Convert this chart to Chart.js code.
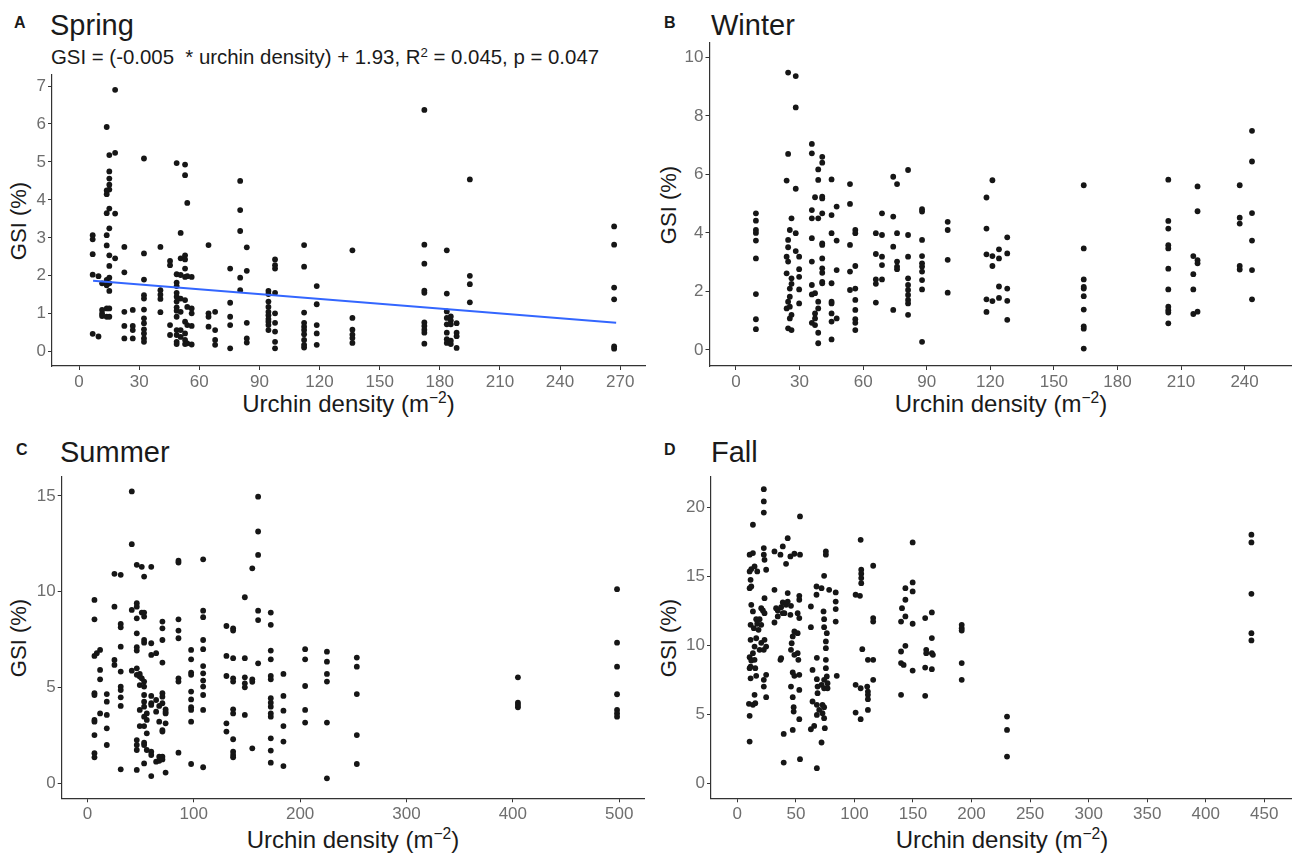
<!DOCTYPE html>
<html>
<head>
<meta charset="utf-8">
<script src="https://cdn.jsdelivr.net/npm/chart.js@4.4.0/dist/chart.umd.min.js"></script>
<style>
  html, body { margin:0; padding:0; background:#fff; }
  body { width:1295px; height:855px; position:relative; overflow:hidden;
         font-family:"Liberation Sans", Arial, Helvetica, sans-serif; color:#1a1a1a; }
  .box { position:absolute; }
  .txt { position:absolute; white-space:nowrap; line-height:1; }
  .tag { font-weight:bold; font-size:16px; }
  .ttl { font-size:29px; }
  .eq { font-size:20.4px; }
  .ylab { font-size:22px; width:120px; height:22px; text-align:center; transform:rotate(-90deg); }
  .xlab { font-size:24px; width:320px; text-align:center; }
  sup { font-size:65%; vertical-align:0.55em; line-height:0; }
</style>
</head>
<body>

<div class="txt tag" style="left:14px;top:14.5px;">A</div>
<div class="txt ttl" style="left:50px;top:10.5px;">Spring</div>
<div class="txt eq" style="left:51px;top:46.8px;">GSI = (-0.005 &nbsp;* urchin density) + 1.93, R<sup>2</sup> = 0.045, p = 0.047</div>
<div class="txt ylab" style="left:-41px;top:209.5px;">GSI (%)</div>
<div class="txt xlab" style="left:188.5px;top:391.7px;">Urchin density (m<sup>&minus;2</sup>)</div>

<div class="txt tag" style="left:664px;top:14.5px;">B</div>
<div class="txt ttl" style="left:711px;top:10.5px;">Winter</div>
<div class="txt ylab" style="left:609px;top:193.5px;">GSI (%)</div>
<div class="txt xlab" style="left:841px;top:391.7px;">Urchin density (m<sup>&minus;2</sup>)</div>

<div class="txt tag" style="left:16px;top:441.5px;">C</div>
<div class="txt ttl" style="left:60px;top:437.8px;">Summer</div>
<div class="txt ylab" style="left:-41px;top:626.5px;">GSI (%)</div>
<div class="txt xlab" style="left:193px;top:827.7px;">Urchin density (m<sup>&minus;2</sup>)</div>

<div class="txt tag" style="left:664px;top:441.5px;">D</div>
<div class="txt ttl" style="left:711px;top:437.8px;">Fall</div>
<div class="txt ylab" style="left:609px;top:626.5px;">GSI (%)</div>
<div class="txt xlab" style="left:842px;top:827.7px;">Urchin density (m<sup>&minus;2</sup>)</div>

<script>
/* ── DATA ── */

// A: Spring — one density per site, GSI values of the urchins sampled there
var springDensity = [6.8, 9.7, 11.5, 13.8, 15.1, 18, 22.6, 26.8, 32.4, 40.6, 45.4, 48.7, 50.7, 52.9, 54, 56.2,
  64.6, 67.9, 75.4, 80.4, 83.7, 94.5, 97.8, 112.3, 118.6, 136.4, 172.3, 183.5, 185.5, 188.4, 195, 267];
var springGSI = [
  [3.07, 2.96, 2.57, 2.03, 0.47],
  [1.99, 0.4],
  [1.8, 1.1, 1.0, 0.94],
  [5.92, 4.25, 4.15, 3.65, 3.07, 2.8, 1.89, 1.75, 1.14, 0.92],
  [5.18, 4.75, 4.56, 4.4, 4.27, 3.77, 3.25, 2.54, 2.26, 1.95, 1.8, 1.6, 1.14, 0.92],
  [6.9, 5.24, 3.64, 2.46],
  [2.76, 2.09, 1.05, 0.68, 0.35],
  [1.1, 0.68, 0.57, 0.35],
  [5.09, 2.59, 1.9, 1.49, 1.4, 1.11, 0.88, 0.75, 0.59, 0.48, 0.35, 0.26],
  [2.76, 1.62, 1.5, 1.39, 1.04],
  [2.39, 2.28, 0.7, 0.44],
  [4.97, 2.04, 1.82, 1.73, 1.55, 1.45, 1.32, 1.17, 1.08, 0.92, 0.57, 0.44, 0.26, 0.2],
  [3.13, 2.46, 2.02, 1.4, 1.05, 0.57, 0.39],
  [4.93, 4.65, 2.54, 2.43, 2.19, 1.97, 1.36, 0.79, 0.48, 0.31, 0.2],
  [3.92, 1.99, 1.18, 0.7, 0.22],
  [1.97, 1.14, 1.01, 0.68, 0.19],
  [2.81, 1.01, 0.92, 0.66],
  [1.05, 0.57, 0.31, 0.18],
  [2.19, 1.29, 0.92, 0.7, 0.09],
  [4.5, 3.73, 3.18, 1.95, 1.62],
  [2.75, 2.13, 0.76, 0.35, 0.24],
  [1.6, 1.52, 1.32, 1.18, 1.05, 0.96, 0.86, 0.79, 0.7, 0.57],
  [2.43, 2.28, 2.19, 1.55, 1.01, 0.76, 0.53, 0.26, 0.09],
  [2.81, 2.24, 1.03, 0.76, 0.66, 0.57, 0.46, 0.31, 0.18, 0.11],
  [1.73, 1.25, 0.7, 0.48, 0.18],
  [2.67, 0.89, 0.58, 0.45, 0.36, 0.23],
  [6.37, 2.82, 2.32, 1.61, 1.55, 0.77, 0.68, 0.58, 0.5, 0.21],
  [2.67, 1.53, 1.06, 0.89, 0.72, 0.5, 0.33, 0.23],
  [0.93, 0.82, 0.72, 0.29, 0.2],
  [0.75, 0.5, 0.41, 0.1],
  [4.54, 2.0, 1.78, 1.3],
  [3.3, 2.82, 1.69, 1.38, 0.14, 0.08]
];
var springFitX = [7, 268];
var springFitY = [1.87, 0.76];
var springXTicks = [0, 30, 60, 90, 120, 150, 180, 210, 240, 270];
var springYTicks = [0, 1, 2, 3, 4, 5, 6, 7];

// B: Winter
var winterDensity = [9.4, 23.9, 24.6, 25.4, 26.2, 28.2, 29.8, 35.8, 37.3, 38.8, 40.7, 45.1, 47.5, 53.8, 56.3,
  66, 68.9, 74.2, 76, 81.2, 87.8, 99.9, 118.2, 121, 124.1, 128, 164.1, 204, 215.8, 217.8, 237.7, 243.5];
var winterGSI = [
  [4.67, 4.42, 4.1, 4.0, 3.74, 3.13, 1.91, 1.05, 0.71],
  [5.79, 3.19, 2.62, 1.42],
  [9.48, 6.7, 3.76, 3.51, 3.02, 1.65, 0.74],
  [4.1, 2.1, 1.82, 1.48, 1.08],
  [4.5, 2.45, 2.26, 1.2, 0.68],
  [9.36, 8.29, 5.51, 3.99, 3.38],
  [3.19, 2.76, 2.5, 2.07, 1.59],
  [7.04, 6.72, 4.78, 4.5, 3.82, 3.02, 2.22, 1.9, 0.93],
  [5.22, 1.94, 1.25, 1.08, 0.85],
  [6.17, 5.81, 4.5, 1.65, 1.42, 0.59, 0.23],
  [6.6, 6.4, 5.24, 5.18, 4.67, 3.64, 3.59, 3.13, 2.79, 2.64, 2.33, 2.28],
  [5.83, 4.61, 3.99, 2.28, 1.65, 1.59, 1.25, 0.97, 0.36],
  [4.9, 3.74, 2.73, 1.08],
  [5.67, 4.99, 3.59, 2.68, 2.05],
  [4.1, 3.99, 2.87, 2.1, 1.71, 1.37, 1.05, 0.93, 0.68],
  [3.99, 3.28, 2.41, 2.26, 1.62],
  [4.67, 3.93, 3.19, 2.9, 2.41],
  [5.92, 4.56, 3.53, 1.37],
  [5.67, 3.99, 3.02, 2.85, 2.76],
  [6.15, 3.93, 3.19, 2.45, 2.22, 2.05, 1.88, 1.71, 1.59, 1.2],
  [4.81, 4.73, 3.76, 3.21, 2.96, 2.85, 2.68, 2.39, 2.07, 0.28],
  [4.38, 4.1, 3.08, 1.96],
  [5.21, 4.15, 3.27, 1.73, 1.3],
  [5.8, 3.21, 2.87, 1.67],
  [3.44, 3.13, 2.17, 1.78],
  [3.85, 3.3, 2.1, 1.68, 1.03],
  [5.63, 3.47, 2.41, 2.16, 2.1, 1.84, 1.38, 0.81, 0.73, 0.05],
  [5.82, 4.41, 4.15, 3.58, 3.47, 2.78, 2.07, 1.48, 1.36, 1.28, 0.91],
  [3.21, 2.59, 2.07, 1.23],
  [5.59, 4.74, 3.07, 2.96, 1.31],
  [5.63, 4.52, 4.32, 2.87, 2.75],
  [7.49, 6.44, 4.68, 3.74, 2.73, 1.73]
];
var winterXTicks = [0, 30, 60, 90, 120, 150, 180, 210, 240];
var winterYTicks = [0, 2, 4, 6, 8, 10];

// C: Summer
var summerDensity = [6.6, 8.8, 11.9, 18.2, 25.4, 31.3, 41.7, 46.4, 49.2, 51.1, 53.3, 55.8, 60, 64.6, 67.5, 70.5,
  73.5, 85.6, 97.5, 108.8, 130.7, 137, 148, 155, 160.5, 172.4, 184.3, 204.7, 225.2, 253.3, 404.8, 498];
var summerGSI = [
  [9.57, 8.56, 6.65, 4.7, 4.61, 3.31, 3.22, 2.52, 1.57, 1.36],
  [6.79],
  [6.96, 5.92, 5.43, 3.65],
  [4.66, 4.26, 3.57, 2.87, 2.0],
  [10.93, 9.22, 6.44, 6.18],
  [10.88, 8.32, 8.14, 7.13, 5.83, 5.05, 4.87, 4.49, 4.04, 0.73],
  [15.23, 12.48, 9.05, 5.88],
  [11.4, 9.4, 9.22, 8.61, 7.83, 7.1, 6.93, 6.0, 5.66, 2.26, 2.0, 1.74, 0.7],
  [5.71, 5.57, 5.13, 3.83, 2.99],
  [11.3, 8.91, 5.48],
  [10.79, 8.91, 8.7, 7.48, 7.34, 5.31, 5.05, 4.61, 4.26, 4.0, 3.48, 2.99, 2.12, 2.0, 1.04],
  [3.65, 3.31, 2.61, 1.74],
  [11.3, 7.31, 6.7, 4.56, 4.18, 4.09, 1.65, 1.48, 0.38],
  [6.79, 4.35, 3.74, 1.13],
  [4.04, 3.22, 1.39, 1.18],
  [8.44, 8.09, 7.48, 6.3, 4.7, 4.52, 4.18, 2.78, 2.7, 1.39, 1.25],
  [3.86, 3.74, 3.65, 3.13, 0.56],
  [11.62, 11.52, 8.56, 7.97, 7.57, 5.48, 5.31, 1.6],
  [6.96, 6.47, 5.78, 5.66, 4.79, 4.38, 3.97, 3.83, 3.22, 1.01],
  [11.69, 9.01, 8.67, 7.48, 7.0, 6.12, 5.74, 5.36, 5.05, 4.61, 3.83, 0.84],
  [8.21, 6.65, 5.6, 3.13, 2.7],
  [8.09, 7.97, 6.53, 5.48, 5.31, 3.86, 3.65, 2.3, 1.65, 1.48, 1.36],
  [9.71, 6.53, 5.53, 5.22, 5.01, 3.57],
  [11.22, 5.43, 5.3, 1.83],
  [14.96, 13.14, 11.92, 9.01, 8.52, 6.26],
  [8.91, 8.27, 6.93, 6.47, 5.6, 5.43, 4.44, 4.21, 4.0, 3.65, 3.48, 2.35, 1.71, 1.08],
  [5.71, 4.56, 3.79, 2.99, 2.18, 0.9],
  [7.0, 6.47, 5.08, 3.83, 3.17],
  [6.87, 6.35, 5.71, 5.31, 3.17, 0.26],
  [6.56, 6.09, 4.66, 2.52, 1.01],
  [5.53, 4.21, 4.09, 3.97],
  [10.13, 7.34, 6.09, 4.65, 3.83, 3.65, 3.48]
];
var summerXTicks = [0, 100, 200, 300, 400, 500];
var summerYTicks = [0, 5, 10, 15];

// D: Fall
var fallDensity = [9.9, 10.5, 11.3, 11.9, 13.3, 14.1, 14.7, 15.3, 16.1, 17, 18.1, 19, 20.4, 21.8, 22.6, 23.2, 24.6,
  31.7, 33.1, 34.5, 36.8, 37.4, 38.8, 39.6, 40.2, 41.6, 43, 45.3, 45.8, 46.4, 47.3, 48.1, 48.7, 51.5, 52.1, 52.9, 53.5,
  62.8, 64.2, 65.6, 67.6, 67.9, 68.5, 69.9, 71.9, 72.7, 73.6, 74.1, 74.7, 75.6, 76.4, 77, 78.4, 84, 84.9,
  101, 104.7, 105.3, 105.8, 106.7, 110.9, 111.5, 116, 139.8, 140.6, 142, 143.5, 149.7, 160.4, 161.3, 166.1, 167,
  191.6, 230.3, 439];
var fallGSI = [
  [5.75],
  [16.55, 15.34, 14.13, 9.13, 8.33, 4.88, 3.02],
  [14.73, 11.47, 10.39, 8.45, 7.6],
  [15.51, 14.25, 12.92, 8.89],
  [18.72, 16.67, 12.44, 9.42, 5.68],
  [11.23],
  [15.7, 9.9, 8.94, 6.4],
  [8.33, 5.8],
  [11.88, 10.5, 7.78],
  [15.34, 11.55],
  [11.11],
  [11.88, 9.66],
  [12.68, 11.47, 10.17],
  [12.51],
  [21.3, 20.41, 19.6, 17.03, 16.55, 9.66, 7.49, 7.0],
  [16.18, 13.4, 12.32, 10.39],
  [15.46, 9.9, 7.85, 6.23],
  [16.79, 14.01, 11.64],
  [12.68],
  [12.51, 12.08],
  [16.55, 8.94],
  [12.75, 9.06],
  [17.15, 13.09, 12.32],
  [3.57, 1.5],
  [12.32],
  [15.89, 12.92],
  [17.75, 13.77, 13.16],
  [16.43, 12.2],
  [12.85, 9.66, 7.0],
  [10.14],
  [10.63, 8.02, 6.23, 3.86],
  [5.51, 5.19],
  [16.62, 10.99, 9.3, 7.78],
  [12.32, 10.87, 9.42],
  [8.94],
  [13.57, 13.29, 11.96, 7.85, 6.76, 4.64],
  [19.32, 16.55, 1.74],
  [12.8, 11.3, 3.91],
  [8.21, 5.92],
  [4.15],
  [14.25, 13.65],
  [9.08, 7.54, 5.68, 4.95, 1.09],
  [7.0, 6.52],
  [5.31],
  [14.13, 7.13, 2.95],
  [5.68, 5.07],
  [12.44],
  [15.02, 11.88, 11.3, 7.49, 6.88, 5.51, 4.71],
  [3.99],
  [16.79, 16.55, 10.27, 9.78, 8.94, 8.33],
  [10.87, 7.73],
  [7.25, 6.88],
  [14.01],
  [13.82, 13.16, 12.61, 11.71],
  [7.78],
  [13.65, 7.13, 5.12],
  [13.57],
  [17.63, 6.88, 4.64],
  [15.46, 15.17, 14.86, 14.49],
  [9.71],
  [7.0],
  [8.94, 6.64, 6.4, 6.09, 5.31],
  [15.75, 11.96, 11.71, 8.94, 7.49],
  [11.71, 9.54, 8.7, 6.4],
  [12.68],
  [8.57],
  [14.13, 13.29, 12.08, 9.95],
  [17.44, 14.54, 13.89, 11.55, 8.16],
  [11.96, 8.38, 6.33],
  [9.66, 9.42],
  [12.37, 10.51, 9.42, 8.26],
  [9.3],
  [11.47, 11.23, 11.06, 8.7, 7.49],
  [4.83, 3.86, 1.93],
  [18.0, 17.44, 13.72, 10.87, 10.34]
];
var fallXTicks = [0, 50, 100, 150, 200, 250, 300, 350, 400, 450];
var fallYTicks = [0, 5, 10, 15, 20];

/* ── Helpers ── */

var FONT = '"Liberation Sans", Arial, Helvetica, sans-serif';
var Y_AXIS_W = 40;
var X_AXIS_H = 30;

function toPoints(xs, groups){
  var pts = [];
  xs.forEach(function(x, i){
    groups[i].forEach(function(y){ pts.push({x: x, y: y}); });
  });
  return pts;
}

function fixedTicks(values){
  return function(scale){
    scale.ticks = values.map(function(v){ return {value: v}; });
  };
}

function axisOpts(min, max, ticks, isX){
  return {
    type: 'linear',
    min: min,
    max: max,
    afterBuildTicks: fixedTicks(ticks),
    afterFit: function(scale){
      if(isX) scale.height = X_AXIS_H;
      else scale.width = Y_AXIS_W;
    },
    ticks: {
      color: '#6e6e6e',
      font: { family: FONT, size: 17 },
      padding: 2,
      maxRotation: 0,
      autoSkip: false,
      callback: function(v){ return String(v); }
    },
    grid: {
      display: true,
      drawOnChartArea: false,
      drawTicks: true,
      tickLength: 4,
      color: '#333',
      lineWidth: 1
    },
    border: { display: true, color: '#333', width: 1.2 }
  };
}

// box = [left, top, width, height] of the canvas, plot = [left, top, right, bottom] of the panel
function makePanel(p){
  var wrap = document.createElement('div');
  wrap.className = 'box';
  wrap.style.left = p.box[0] + 'px';
  wrap.style.top = p.box[1] + 'px';
  wrap.style.width = p.box[2] + 'px';
  wrap.style.height = p.box[3] + 'px';
  var cv = document.createElement('canvas');
  cv.width = p.box[2];
  cv.height = p.box[3];
  wrap.appendChild(cv);
  document.body.appendChild(wrap);

  var pad = {
    left: p.plot[0] - p.box[0] - Y_AXIS_W,
    top: p.plot[1] - p.box[1],
    right: p.box[0] + p.box[2] - p.plot[2],
    bottom: p.box[1] + p.box[3] - p.plot[3] - X_AXIS_H
  };

  var datasets = [{
    data: toPoints(p.xs, p.ys),
    backgroundColor: '#161616',
    borderWidth: 0,
    pointRadius: 2.9,
    order: 1
  }];
  if(p.fitX){
    datasets.push({
      data: p.fitX.map(function(x, i){ return {x: x, y: p.fitY[i]}; }),
      showLine: true,
      borderColor: '#3366FF',
      borderWidth: 2,
      pointRadius: 0,
      fill: false,
      order: 0
    });
  }

  return new Chart(cv.getContext('2d'), {
    type: 'scatter',
    data: { datasets: datasets },
    options: {
      responsive: false,
      animation: false,
      layout: { padding: pad },
      plugins: { legend: { display: false }, tooltip: { enabled: false } },
      scales: {
        x: axisOpts(p.xMin, p.xMax, p.xTicks, true),
        y: axisOpts(p.yMin, p.yMax, p.yTicks, false)
      }
    }
  });
}

/* ── Build the four panels ── */

makePanel({
  box: [0, 0, 650, 415], plot: [52, 75, 645, 366],
  xs: springDensity, ys: springGSI, fitX: springFitX, fitY: springFitY,
  xMin: -13.5, xMax: 282.4, yMin: -0.377, yMax: 7.29,
  xTicks: springXTicks, yTicks: springYTicks
});

makePanel({
  box: [650, 0, 645, 415], plot: [709.5, 43, 1293, 366],
  xs: winterDensity, ys: winterGSI,
  xMin: -12.5, xMax: 261.9, yMin: -0.547, yMax: 10.49,
  xTicks: winterXTicks, yTicks: winterYTicks
});

makePanel({
  box: [0, 420, 650, 435], plot: [61.7, 476.7, 644.7, 798.3],
  xs: summerDensity, ys: summerGSI,
  xMin: -24.2, xMax: 524, yMin: -0.78, yMax: 16.0,
  xTicks: summerXTicks, yTicks: summerYTicks
});

makePanel({
  box: [650, 420, 645, 435], plot: [711, 476.7, 1293, 798.3],
  xs: fallDensity, ys: fallGSI,
  xMin: -22.5, xMax: 472.8, yMin: -1.09, yMax: 22.2,
  xTicks: fallXTicks, yTicks: fallYTicks
});
</script>
</body>
</html>
